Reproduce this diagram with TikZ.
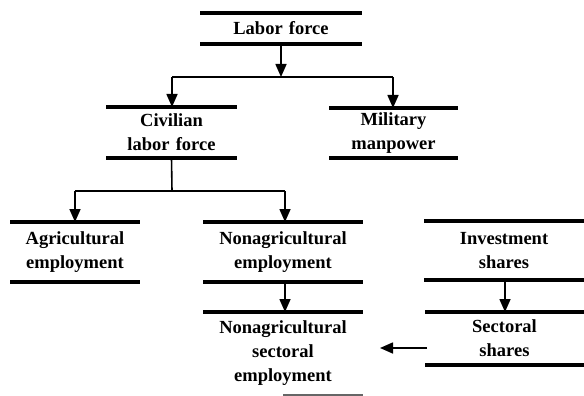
\documentclass[tikz,border=0pt]{standalone}
\usepackage{fontspec}
\setmainfont{Liberation Serif}
\usetikzlibrary{arrows.meta}
\begin{document}
\begin{tikzpicture}[x=1pt,y=-1pt,
  box/.style={inner sep=0pt, outer sep=0pt, align=center,
    font=\fontsize{18.5}{24}\selectfont\bfseries},
  bar/.style={line width=3.4pt},
  conn/.style={line width=1.6pt},
  arr/.style={conn,-{Triangle[width=11pt,length=13pt]}}]
\useasboundingbox (0,0) rectangle (584,396);
\node[box, minimum width=162pt, minimum height=31pt, text width=160pt] (lf) at (281,28.5) {Labor force};
\node[box, minimum width=131pt, minimum height=51pt, text width=129pt] (clf) at (171.5,132.5) {Civilian\\labor force};
\node[box, minimum width=129pt, minimum height=50pt, text width=127pt] (mil) at (393.5,133) {Military\\manpower};
\node[box, minimum width=130pt, minimum height=60pt, text width=128pt] (agr) at (75,252) {Agricultural\\employment};
\node[box, minimum width=160pt, minimum height=60pt, text width=158pt] (nae) at (283,252) {Nonagricultural\\employment};
\node[box, minimum width=160pt, minimum height=59pt, text width=158pt] (inv) at (504,250.5) {Investment\\shares};
\node[box, minimum width=160pt, minimum height=83pt, text width=158pt] (nse) at (283,353.5) {Nonagricultural\\sectoral\\employment};
\node[box, minimum width=159pt, minimum height=53pt, text width=157pt] (sec) at (504.5,338.5) {Sectoral\\shares};
\foreach \n in {lf,clf,mil,agr,nae,inv,sec}
  \draw[bar] (\n.north west) -- (\n.north east) (\n.south west) -- (\n.south east);
\draw[bar] (nse.north west) -- (nse.north east);
\draw[line width=1.4pt, black!60] ([xshift=80pt]nse.south west) -- (nse.south east);
% Labor force split
\coordinate (j1) at (281,77);
\draw[arr] (lf.south) -- (j1);
\draw[conn] (172,77) -- (393,77);
\draw[arr] (172,77) -- (172,107);
\draw[arr] (393,77) -- (393,108);
% Civilian split
\draw[conn] (clf.south) -- (172,191);
\draw[conn] (75,191) -- (285,191);
\draw[arr] (75,191) -- (agr.north);
\draw[arr] (285,191) -- (285,222);
\draw[arr] (285,282) -- (285,312);
\draw[arr] (505,280) -- (505,312);
\coordinate (a1) at (427,348);
\coordinate (a2) at (380,348);
\draw[arr] (a1) -- (a2);
\end{tikzpicture}
\end{document}
